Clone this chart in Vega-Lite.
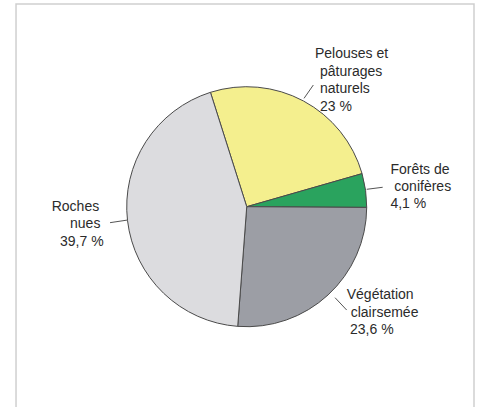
{
  "$schema": "https://vega.github.io/schema/vega-lite/v6.json",
  "width": 483,
  "height": 407,
  "autosize": {"type": "none"},
  "padding": 0,
  "background": "white",
  "config": {"view": {"stroke": null}},
  "datasets": {
    "slices": [
      {"categorie": "Pelouses et pâturages naturels", "part": 23, "ordre": 1},
      {"categorie": "Forêts de conifères", "part": 4.1, "ordre": 2},
      {"categorie": "Végétation clairsemée", "part": 23.6, "ordre": 3},
      {"categorie": "Roches nues", "part": 39.7, "ordre": 4}
    ],
    "labels": [
      {"ligne": "Pelouses et", "x": 0.569, "y": 1.2725},
      {"ligne": "pâturages", "x": 0.611, "y": 1.1225},
      {"ligne": "naturels", "x": 0.611, "y": 0.978},
      {"ligne": "23 %", "x": 0.611, "y": 0.8308},
      {"ligne": "Forêts de", "x": 1.1975, "y": 0.3058},
      {"ligne": "conifères", "x": 1.23, "y": 0.1667},
      {"ligne": "4,1 %", "x": 1.1975, "y": 0.0225},
      {"ligne": "Roches", "x": -1.625, "y": 0.0},
      {"ligne": "nues", "x": -1.4725, "y": -0.1467},
      {"ligne": "39,7 %", "x": -1.5558, "y": -0.2967},
      {"ligne": "Végétation", "x": 0.8333, "y": -0.7358},
      {"ligne": "clairsemée", "x": 0.8667, "y": -0.8833},
      {"ligne": "23,6 %", "x": 0.8608, "y": -1.0275}
    ],
    "leaders": [
      {"x": 0.4775, "y": 0.903, "x2": 0.555, "y2": 1.014},
      {"x": 1.0, "y": 0.145, "x2": 1.133, "y2": 0.162},
      {"x": 0.736, "y": -0.758, "x2": 0.833, "y2": -0.861},
      {"x": -1.139, "y": -0.133, "x2": -0.992, "y2": -0.111}
    ],
    "frame": [
      {"x": -1.9225, "y": 1.689, "x2": 1.894, "y2": -1.75}
    ]
  },
  "layer": [
    {
      "data": {"name": "frame"},
      "mark": {"type": "rect", "fill": null, "stroke": "#cfcfcf", "strokeWidth": 1.5},
      "encoding": {
        "x": {"field": "x", "type": "quantitative", "scale": {"domain": [-2.056, 1.969], "nice": false, "zero": false}, "axis": null},
        "x2": {"field": "x2"},
        "y": {"field": "y", "type": "quantitative", "scale": {"domain": [-1.669, 1.7225], "nice": false, "zero": false}, "axis": null},
        "y2": {"field": "y2"}
      }
    },
    {
      "data": {"name": "slices"},
      "mark": {"type": "arc", "outerRadius": 120, "stroke": "#4a4a4a", "strokeWidth": 1},
      "encoding": {
        "x": {"datum": 0, "type": "quantitative", "scale": {"domain": [-2.056, 1.969], "nice": false, "zero": false}, "axis": null},
        "y": {"datum": 0, "type": "quantitative", "scale": {"domain": [-1.669, 1.7225], "nice": false, "zero": false}, "axis": null},
        "theta": {"field": "part", "type": "quantitative", "stack": true, "scale": {"range": [-0.307, 5.976]}},
        "order": {"field": "ordre", "type": "quantitative"},
        "color": {
          "field": "categorie",
          "type": "nominal",
          "scale": {
            "domain": ["Pelouses et pâturages naturels", "Forêts de conifères", "Végétation clairsemée", "Roches nues"],
            "range": ["#f4ef8e", "#2aa35e", "#9c9ea5", "#dcdcdf"]
          },
          "legend": null
        }
      }
    },
    {
      "data": {"name": "leaders"},
      "mark": {"type": "rule", "stroke": "#555555", "strokeWidth": 1},
      "encoding": {
        "x": {"field": "x", "type": "quantitative", "scale": {"domain": [-2.056, 1.969], "nice": false, "zero": false}, "axis": null},
        "x2": {"field": "x2"},
        "y": {"field": "y", "type": "quantitative", "scale": {"domain": [-1.669, 1.7225], "nice": false, "zero": false}, "axis": null},
        "y2": {"field": "y2"}
      }
    },
    {
      "data": {"name": "labels"},
      "mark": {"type": "text", "align": "left", "baseline": "middle", "font": "Liberation Sans", "fontSize": 14, "fill": "#2b2b2b"},
      "encoding": {
        "x": {"field": "x", "type": "quantitative", "scale": {"domain": [-2.056, 1.969], "nice": false, "zero": false}, "axis": null},
        "y": {"field": "y", "type": "quantitative", "scale": {"domain": [-1.669, 1.7225], "nice": false, "zero": false}, "axis": null},
        "text": {"field": "ligne", "type": "nominal"}
      }
    }
  ]
}
